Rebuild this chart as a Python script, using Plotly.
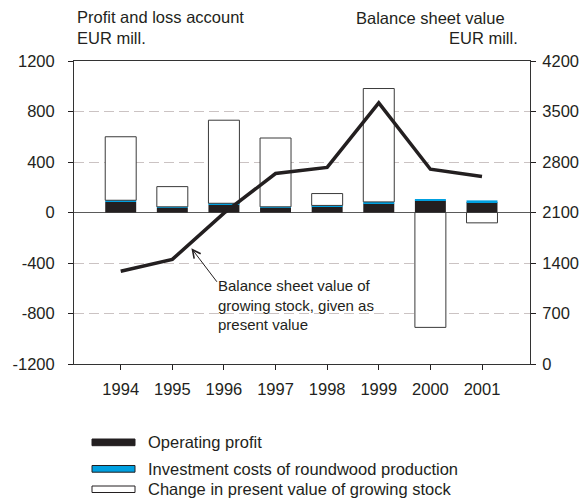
import plotly.graph_objects as go

years = [1994, 1995, 1996, 1997, 1998, 1999, 2000, 2001]
operating_profit = [85, 37, 63, 37, 50, 72, 95, 82]
investment_costs = [12, 8, 10, 8, 6, 12, 12, 14]
change_present_value = [503, 160, 658, 545, 94, 898, -910, -82]
balance_sheet_value = [1285, 1450, 2090, 2640, 2725, 3620, 2700, 2600]

left_ticks = [-1200, -800, -400, 0, 400, 800, 1200]
left_tick_labels = ["-1200", "-800", "-400", "0", "400", "800", "1200"]
right_ticks = [0, 700, 1400, 2100, 2800, 3500, 4200]
right_tick_labels = ["0", "700", "1400", "2100", "2800", "3500", "4200"]

series_names = ["Operating profit",
                "Investment costs of roundwood production",
                "Change in present value of growing stock"]
series_fill = ["#231f20", "#00a0e0", "#ffffff"]

INK = "#231f20"
FONT = "Liberation Sans, Arial, sans-serif"
FS = 16.5

# plot area in pixels
L, R, T, B = 74, 530, 61, 364
W, H = R - L, B - T


def px(x):
    return (x - L) / W


def py(y):
    return (B - y) / H


fig = go.Figure()
fig.add_trace(go.Bar(x=years, y=operating_profit, name=series_names[0], width=0.6,
                     marker=dict(color=series_fill[0], line=dict(width=0))))
fig.add_trace(go.Bar(x=years, y=investment_costs, name=series_names[1], width=0.6,
                     marker=dict(color=series_fill[1], line=dict(width=0))))
fig.add_trace(go.Bar(x=years, y=change_present_value, name=series_names[2], width=0.6,
                     marker=dict(color=series_fill[2], line=dict(color="#3a3a3a", width=1))))
fig.add_trace(go.Scatter(x=years, y=balance_sheet_value, yaxis="y2", mode="lines",
                         line=dict(color=INK, width=3.5), name="Balance sheet value"))

fig.update_layout(
    width=584, height=501,
    margin=dict(l=L, r=584 - R, t=T, b=501 - B, autoexpand=False),
    paper_bgcolor="white", plot_bgcolor="white",
    barmode="relative",
    showlegend=False,
    font=dict(family=FONT, size=FS, color=INK),
    xaxis=dict(range=[1993.095, 2001.93], tickvals=years, ticks="outside", ticklen=5,
               tickcolor=INK, showline=True, linecolor="#333333", linewidth=1, mirror=True,
               showgrid=False, zeroline=False, ticklabelstandoff=5, automargin=False,
               tickfont=dict(size=FS)),
    yaxis=dict(range=[-1200, 1200], tickvals=left_ticks, ticktext=left_tick_labels,
               ticks="outside", ticklen=5,
               tickcolor=INK, showline=True, linecolor="#333333", linewidth=1,
               showgrid=True, gridcolor="#cbc3c3", griddash="10px,5px", gridwidth=1,
               zeroline=True, zerolinecolor="#5a5a5a", zerolinewidth=1,
               ticklabelstandoff=10, automargin=False, tickfont=dict(size=FS)),
    yaxis2=dict(range=[0, 4200], tickvals=right_ticks, ticktext=right_tick_labels,
                overlaying="y", side="right",
                ticks="outside", ticklen=5, tickcolor=INK, showline=True,
                linecolor="#333333", linewidth=1, showgrid=False, zeroline=False,
                ticklabelstandoff=3, automargin=False, tickfont=dict(size=FS)),
)

annotations = [
    dict(text="Profit and loss account<br>EUR mill.", xref="paper", yref="paper",
         x=px(75), y=py(28), xanchor="left", yanchor="middle", align="left",
         showarrow=False, font=dict(size=FS)),
    dict(text="Balance sheet value", xref="paper", yref="paper",
         x=px(507), y=py(18), xanchor="right", yanchor="middle",
         showarrow=False, font=dict(size=FS)),
    dict(text="EUR mill.", xref="paper", yref="paper",
         x=px(520), y=py(38), xanchor="right", yanchor="middle",
         showarrow=False, font=dict(size=FS)),
    # arrow pointing at the balance sheet line
    dict(text="", x=1995.37, y=1604, xref="x", yref="y2",
         ax=26.6, ay=35, axref="pixel", ayref="pixel",
         showarrow=True, arrowhead=5, arrowsize=1.6, arrowwidth=1, arrowcolor=INK,
         standoff=0, startstandoff=0),
    dict(text="Balance sheet value of<br>growing stock, given as<br>present value",
         xref="paper", yref="paper", x=px(216), y=py(305),
         xanchor="left", yanchor="middle", align="left",
         showarrow=False, font=dict(size=15)),
]

legend_rows = [(439, 445.7), (465.5, 472.2), (486, 492.5)]
shapes = []
for i, name in enumerate(series_names):
    top, bot = legend_rows[i]
    shapes.append(dict(type="rect", xref="paper", yref="paper",
                       x0=px(92), x1=px(135), y0=py(bot), y1=py(top),
                       fillcolor=series_fill[i], line=dict(color=INK, width=1)))
    annotations.append(dict(text=name, xref="paper", yref="paper",
                            x=px(146), y=py((top + bot) / 2),
                            xanchor="left", yanchor="middle", showarrow=False,
                            font=dict(size=FS)))

fig.update_layout(annotations=annotations, shapes=shapes)
fig.write_html("out.html", config={"displayModeBar": False},
               post_script="document.body.style.margin='0';document.body.style.overflow='hidden';")
